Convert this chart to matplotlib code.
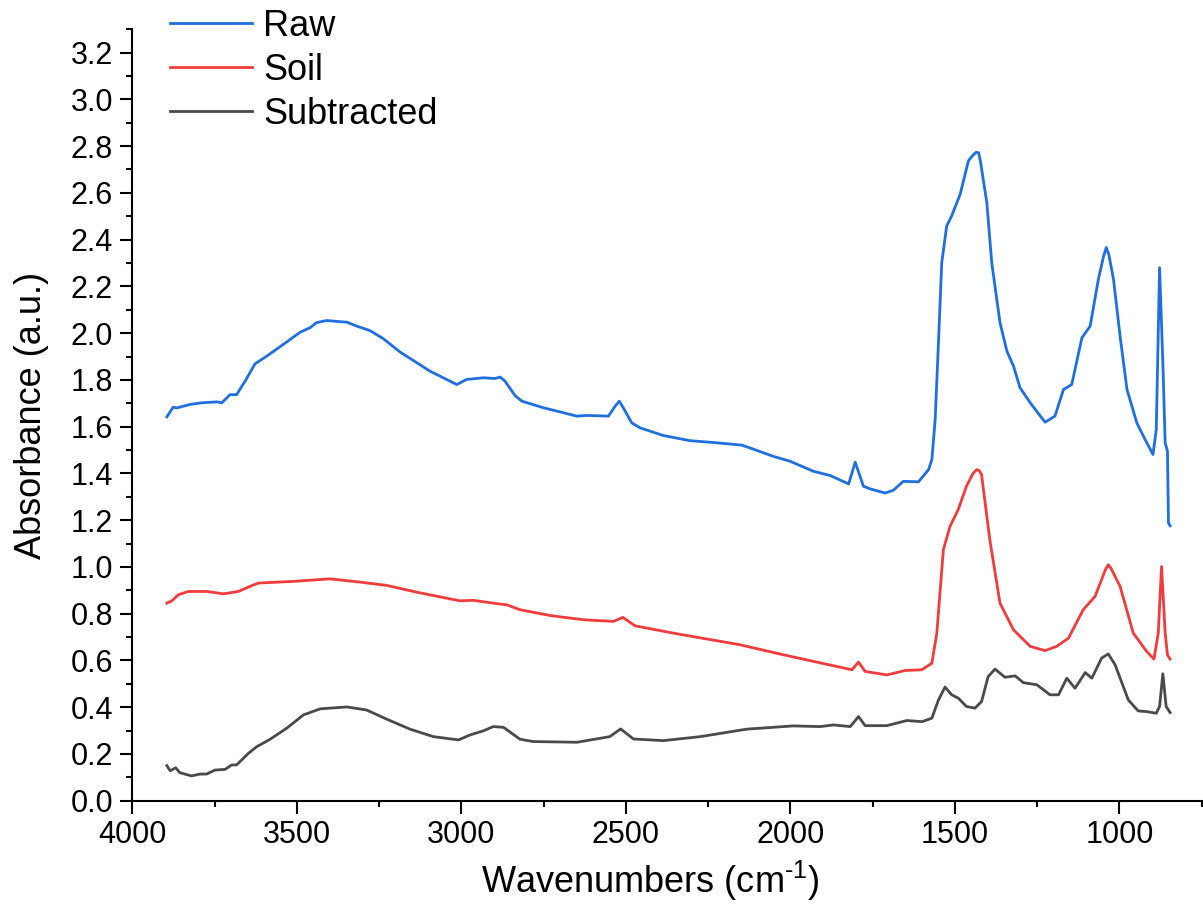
import numpy as np
from matplotlib import pyplot as plt
from matplotlib.ticker import MultipleLocator, FormatStrFormatter

plt.rcParams["font.family"] = ["Liberation Sans", "DejaVu Sans"]
plt.rcParams["mathtext.fontset"] = "custom"
plt.rcParams["mathtext.rm"] = "Liberation Sans"

# raw spectrum
raw_wn = [3895, 3876, 3865, 3825, 3789, 3743, 3728, 3703, 3683, 3655, 3627, 3591, 3541,
          3490, 3460, 3440, 3409, 3369, 3348, 3318, 3278, 3237, 3186, 3146, 3095,
          3055, 3014, 2984, 2933, 2898, 2882, 2867, 2837, 2816, 2751, 2649, 2619,
          2553, 2533, 2520, 2508, 2482, 2457, 2386, 2305, 2224, 2148, 2123, 2052,
          2001, 1930, 1879, 1823, 1803, 1778, 1758, 1712, 1687, 1657, 1611, 1580,
          1570, 1560, 1550, 1540, 1525, 1510, 1484, 1459, 1446, 1436, 1428, 1423, 1403, 1388,
          1363, 1342, 1322, 1302, 1271, 1226, 1196, 1170, 1145, 1114, 1089, 1064,
          1048, 1040, 1032, 1018, 998, 977, 947, 922, 898, 888, 878, 868, 861, 854, 851, 846]
raw_abs = [1.642, 1.683, 1.680, 1.695, 1.702, 1.706, 1.702, 1.737, 1.737, 1.800, 1.869, 1.902, 1.952,
           2.004, 2.023, 2.045, 2.054, 2.049, 2.047, 2.030, 2.011, 1.976, 1.919, 1.883, 1.837,
           1.809, 1.780, 1.802, 1.809, 1.806, 1.812, 1.794, 1.733, 1.709, 1.681, 1.645, 1.648,
           1.645, 1.687, 1.709, 1.681, 1.616, 1.595, 1.562, 1.540, 1.531, 1.521, 1.509, 1.473,
           1.452, 1.409, 1.391, 1.355, 1.448, 1.345, 1.334, 1.316, 1.328, 1.366, 1.364, 1.416,
           1.459, 1.630, 1.959, 2.301, 2.458, 2.501, 2.594, 2.737, 2.760, 2.773, 2.772, 2.740, 2.558, 2.301,
           2.045, 1.923, 1.859, 1.766, 1.702, 1.619, 1.645, 1.759, 1.780, 1.980, 2.030, 2.230,
           2.330, 2.366, 2.335, 2.230, 1.987, 1.759, 1.616, 1.545, 1.481, 1.588, 2.280, 1.873, 1.531, 1.495, 1.188, 1.176]

# soil spectrum
soil_wn = [3895, 3880, 3860, 3830, 3774, 3723, 3678, 3642, 3617, 3511, 3399, 3308,
           3227, 3136, 3005, 2964, 2882, 2862, 2822, 2730, 2629, 2538, 2509, 2472,
           2345, 2153, 2021, 1813, 1793, 1773, 1707, 1651, 1601, 1570, 1555, 1535,
           1515, 1490, 1465, 1445, 1434, 1426, 1419, 1394, 1363, 1322, 1271, 1226, 1191, 1155,
           1110, 1074, 1042, 1034, 1026, 998, 958, 917, 895, 882, 872, 861, 854, 846]
soil_abs = [0.845, 0.855, 0.881, 0.895, 0.895, 0.885, 0.895, 0.917, 0.931, 0.938, 0.949, 0.935,
            0.921, 0.892, 0.855, 0.857, 0.841, 0.838, 0.817, 0.792, 0.774, 0.767, 0.784, 0.748,
            0.714, 0.667, 0.624, 0.560, 0.593, 0.553, 0.538, 0.557, 0.560, 0.588, 0.717, 1.074,
            1.173, 1.245, 1.345, 1.400, 1.416, 1.412, 1.395, 1.117, 0.845, 0.731, 0.660, 0.642, 0.660, 0.695,
            0.817, 0.874, 0.990, 1.009, 0.995, 0.917, 0.717, 0.638, 0.606, 0.717, 1.002, 0.717, 0.624, 0.606]

# subtracted spectrum
sub_wn = [3895, 3885, 3868, 3856, 3820, 3794, 3774, 3749, 3718, 3698, 3683, 3647,
          3622, 3581, 3531, 3480, 3429, 3348, 3288, 3227, 3156, 3085, 3009, 2974,
          2933, 2903, 2872, 2822, 2782, 2649, 2549, 2516, 2477, 2386, 2274, 2133,
          1991, 1910, 1869, 1818, 1793, 1773, 1707, 1646, 1600, 1570, 1550, 1530,
          1510, 1490, 1465, 1439, 1419, 1399, 1378, 1348, 1317, 1292, 1251, 1211,
          1185, 1160, 1135, 1104, 1084, 1054, 1034, 1013, 973, 943, 917, 888,
          878, 868, 858, 846]
sub_abs = [0.150, 0.128, 0.141, 0.120, 0.106, 0.114, 0.114, 0.131, 0.134, 0.153, 0.153, 0.203,
           0.231, 0.263, 0.310, 0.367, 0.393, 0.401, 0.388, 0.349, 0.306, 0.274, 0.260, 0.281,
           0.299, 0.317, 0.314, 0.263, 0.253, 0.250, 0.274, 0.307, 0.264, 0.257, 0.274, 0.306,
           0.320, 0.317, 0.324, 0.317, 0.360, 0.321, 0.321, 0.343, 0.338, 0.353, 0.431, 0.486,
           0.453, 0.439, 0.403, 0.396, 0.424, 0.531, 0.563, 0.528, 0.534, 0.505, 0.496, 0.453,
           0.453, 0.524, 0.481, 0.548, 0.524, 0.610, 0.628, 0.581, 0.431, 0.384, 0.381, 0.374,
           0.403, 0.543, 0.403, 0.377]

fig = plt.figure(figsize=(12.03, 9.13), dpi=100)
ax = fig.add_axes([0.110, 0.123, 0.890, 0.845])

ax.plot(raw_wn, raw_abs, color="#1f6fe0", lw=2, label="Raw")
ax.plot(soil_wn, soil_abs, color="#f03c3c", lw=2, label="Soil")
ax.plot(sub_wn, sub_abs, color="#4a4a4a", lw=2, label="Subtracted")

ax.set_xlim(4000, 746)
ax.set_ylim(0, 3.3)
ax.xaxis.set_major_locator(MultipleLocator(500))
ax.xaxis.set_minor_locator(MultipleLocator(250))
ax.yaxis.set_major_locator(MultipleLocator(0.2))
ax.yaxis.set_minor_locator(MultipleLocator(0.1))
ax.yaxis.set_major_formatter(FormatStrFormatter("%.1f"))

for s in ["top", "right"]:
    ax.spines[s].set_visible(False)
for s in ["left", "bottom"]:
    ax.spines[s].set_linewidth(1.5)
ax.tick_params(which="major", direction="out", length=9, width=1.5, labelsize=22, pad=5)
ax.tick_params(which="minor", direction="out", length=4.5, width=1.5)

ax.set_xlabel("Wavenumbers (cm$^{\\text{-1}}$)", fontsize=26, labelpad=12)
ax.xaxis.set_label_coords(0.484, -0.075)
ax.set_ylabel("Absorbance (a.u.)", fontsize=26, labelpad=15)

ax.legend(loc="upper left", bbox_to_anchor=(170 / 1203, 1 - 9 / 913), bbox_transform=fig.transFigure,
          frameon=False, fontsize=26, borderpad=0, borderaxespad=0, handlelength=2.28,
          handletextpad=0.3, labelspacing=0.25)

plt.savefig("out.png")
